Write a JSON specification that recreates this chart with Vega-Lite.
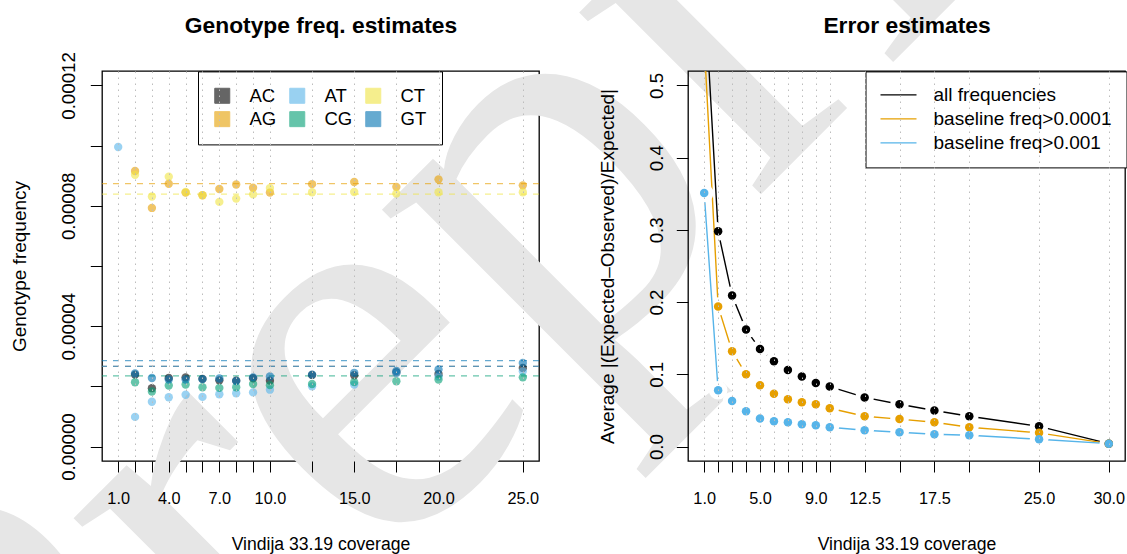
{
  "$schema": "https://vega.github.io/schema/vega-lite/v6.json",
  "background": "white",
  "autosize": {"type": "none"},
  "padding": {"left": 102, "top": 71, "right": 2, "bottom": 93},
  "params": [{"name": "width", "value": 1023}, {"name": "height", "value": 390}],
  "bounds": "flush",
  "spacing": 149,
  "resolve": {"scale": {"color": "independent"}, "legend": {"color": "independent"}},
  "config": {
    "font": "Liberation Sans",
    "view": {"stroke": "black", "strokeWidth": 1.3},
    "axis": {"domain": false, "grid": false, "tickColor": "black", "tickWidth": 1, "labelColor": "black", "titleColor": "black", "labelFont": "Liberation Sans", "titleFont": "Liberation Sans", "titleFontWeight": "normal", "labelFlush": false, "labelOverlap": false}
  },
  "datasets": {
    "geno": [
      {"g": "AC", "cov": 2, "freq": 2.39e-5}, {"g": "AC", "cov": 3, "freq": 1.94e-5}, {"g": "AC", "cov": 4, "freq": 2.28e-5}, {"g": "AC", "cov": 5, "freq": 2.30e-5}, {"g": "AC", "cov": 6, "freq": 2.25e-5}, {"g": "AC", "cov": 7, "freq": 2.20e-5}, {"g": "AC", "cov": 8, "freq": 2.19e-5}, {"g": "AC", "cov": 9, "freq": 2.27e-5}, {"g": "AC", "cov": 10, "freq": 2.19e-5}, {"g": "AC", "cov": 12.5, "freq": 2.38e-5}, {"g": "AC", "cov": 15, "freq": 2.37e-5}, {"g": "AC", "cov": 17.5, "freq": 2.46e-5}, {"g": "AC", "cov": 20, "freq": 2.41e-5}, {"g": "AC", "cov": 25, "freq": 2.61e-5},
      {"g": "AG", "cov": 2, "freq": 9.157e-5}, {"g": "AG", "cov": 3, "freq": 7.93e-5}, {"g": "AG", "cov": 4, "freq": 8.735e-5}, {"g": "AG", "cov": 5, "freq": 8.44e-5}, {"g": "AG", "cov": 6, "freq": 8.35e-5}, {"g": "AG", "cov": 7, "freq": 8.56e-5}, {"g": "AG", "cov": 8, "freq": 8.71e-5}, {"g": "AG", "cov": 9, "freq": 8.60e-5}, {"g": "AG", "cov": 10, "freq": 8.44e-5}, {"g": "AG", "cov": 12.5, "freq": 8.72e-5}, {"g": "AG", "cov": 15, "freq": 8.79e-5}, {"g": "AG", "cov": 17.5, "freq": 8.63e-5}, {"g": "AG", "cov": 20, "freq": 8.88e-5}, {"g": "AG", "cov": 25, "freq": 8.68e-5},
      {"g": "AT", "cov": 1, "freq": 9.954e-5}, {"g": "AT", "cov": 2, "freq": 9.86e-6}, {"g": "AT", "cov": 3, "freq": 1.49e-5}, {"g": "AT", "cov": 4, "freq": 1.64e-5}, {"g": "AT", "cov": 5, "freq": 1.72e-5}, {"g": "AT", "cov": 6, "freq": 1.65e-5}, {"g": "AT", "cov": 7, "freq": 1.74e-5}, {"g": "AT", "cov": 8, "freq": 1.77e-5}, {"g": "AT", "cov": 9, "freq": 1.80e-5}, {"g": "AT", "cov": 10, "freq": 1.89e-5}, {"g": "AT", "cov": 12.5, "freq": 2.00e-5}, {"g": "AT", "cov": 15, "freq": 2.06e-5}, {"g": "AT", "cov": 17.5, "freq": 2.44e-5}, {"g": "AT", "cov": 20, "freq": 2.33e-5}, {"g": "AT", "cov": 25, "freq": 2.50e-5},
      {"g": "CG", "cov": 2, "freq": 2.136e-5}, {"g": "CG", "cov": 3, "freq": 1.83e-5}, {"g": "CG", "cov": 4, "freq": 2.03e-5}, {"g": "CG", "cov": 5, "freq": 2.06e-5}, {"g": "CG", "cov": 6, "freq": 1.97e-5}, {"g": "CG", "cov": 7, "freq": 1.95e-5}, {"g": "CG", "cov": 8, "freq": 1.97e-5}, {"g": "CG", "cov": 9, "freq": 2.08e-5}, {"g": "CG", "cov": 10, "freq": 2.04e-5}, {"g": "CG", "cov": 12.5, "freq": 2.08e-5}, {"g": "CG", "cov": 15, "freq": 2.14e-5}, {"g": "CG", "cov": 17.5, "freq": 2.17e-5}, {"g": "CG", "cov": 20, "freq": 2.23e-5}, {"g": "CG", "cov": 25, "freq": 2.30e-5},
      {"g": "CT", "cov": 2, "freq": 9.03e-5}, {"g": "CT", "cov": 3, "freq": 8.31e-5}, {"g": "CT", "cov": 4, "freq": 8.97e-5}, {"g": "CT", "cov": 5, "freq": 8.46e-5}, {"g": "CT", "cov": 6, "freq": 8.35e-5}, {"g": "CT", "cov": 7, "freq": 8.13e-5}, {"g": "CT", "cov": 8, "freq": 8.24e-5}, {"g": "CT", "cov": 9, "freq": 8.38e-5}, {"g": "CT", "cov": 10, "freq": 8.59e-5}, {"g": "CT", "cov": 12.5, "freq": 8.45e-5}, {"g": "CT", "cov": 15, "freq": 8.46e-5}, {"g": "CT", "cov": 17.5, "freq": 8.41e-5}, {"g": "CT", "cov": 20, "freq": 8.45e-5}, {"g": "CT", "cov": 25, "freq": 8.45e-5},
      {"g": "GT", "cov": 2, "freq": 2.43e-5}, {"g": "GT", "cov": 3, "freq": 2.28e-5}, {"g": "GT", "cov": 4, "freq": 2.23e-5}, {"g": "GT", "cov": 5, "freq": 2.23e-5}, {"g": "GT", "cov": 6, "freq": 2.24e-5}, {"g": "GT", "cov": 7, "freq": 2.26e-5}, {"g": "GT", "cov": 8, "freq": 2.18e-5}, {"g": "GT", "cov": 9, "freq": 2.30e-5}, {"g": "GT", "cov": 10, "freq": 2.33e-5}, {"g": "GT", "cov": 12.5, "freq": 2.39e-5}, {"g": "GT", "cov": 15, "freq": 2.45e-5}, {"g": "GT", "cov": 17.5, "freq": 2.51e-5}, {"g": "GT", "cov": 20, "freq": 2.56e-5}, {"g": "GT", "cov": 25, "freq": 2.78e-5}
    ],
    "base": [
      {"g": "AC", "freq": 2.667e-5}, {"g": "AG", "freq": 8.735e-5}, {"g": "AT", "freq": 2.667e-5}, {"g": "CG", "freq": 2.348e-5}, {"g": "CT", "freq": 8.39e-5}, {"g": "GT", "freq": 2.856e-5}
    ],
    "err": [
      {"s": "all frequencies", "cov": 1, "err": 0.64}, {"s": "all frequencies", "cov": 2, "err": 0.298}, {"s": "all frequencies", "cov": 3, "err": 0.209}, {"s": "all frequencies", "cov": 4, "err": 0.162}, {"s": "all frequencies", "cov": 5, "err": 0.135}, {"s": "all frequencies", "cov": 6, "err": 0.118}, {"s": "all frequencies", "cov": 7, "err": 0.106}, {"s": "all frequencies", "cov": 8, "err": 0.097}, {"s": "all frequencies", "cov": 9, "err": 0.088}, {"s": "all frequencies", "cov": 10, "err": 0.083}, {"s": "all frequencies", "cov": 12.5, "err": 0.068}, {"s": "all frequencies", "cov": 15, "err": 0.0585}, {"s": "all frequencies", "cov": 17.5, "err": 0.05}, {"s": "all frequencies", "cov": 20, "err": 0.042}, {"s": "all frequencies", "cov": 25, "err": 0.028}, {"s": "all frequencies", "cov": 30, "err": 0.004},
      {"s": "baseline freq>0.0001", "cov": 1, "err": 0.56}, {"s": "baseline freq>0.0001", "cov": 2, "err": 0.194}, {"s": "baseline freq>0.0001", "cov": 3, "err": 0.132}, {"s": "baseline freq>0.0001", "cov": 4, "err": 0.1}, {"s": "baseline freq>0.0001", "cov": 5, "err": 0.085}, {"s": "baseline freq>0.0001", "cov": 6, "err": 0.073}, {"s": "baseline freq>0.0001", "cov": 7, "err": 0.0655}, {"s": "baseline freq>0.0001", "cov": 8, "err": 0.0613}, {"s": "baseline freq>0.0001", "cov": 9, "err": 0.0585}, {"s": "baseline freq>0.0001", "cov": 10, "err": 0.053}, {"s": "baseline freq>0.0001", "cov": 12.5, "err": 0.042}, {"s": "baseline freq>0.0001", "cov": 15, "err": 0.038}, {"s": "baseline freq>0.0001", "cov": 17.5, "err": 0.0337}, {"s": "baseline freq>0.0001", "cov": 20, "err": 0.0268}, {"s": "baseline freq>0.0001", "cov": 25, "err": 0.019}, {"s": "baseline freq>0.0001", "cov": 30, "err": 0.004},
      {"s": "baseline freq>0.001", "cov": 1, "err": 0.351}, {"s": "baseline freq>0.001", "cov": 2, "err": 0.078}, {"s": "baseline freq>0.001", "cov": 3, "err": 0.063}, {"s": "baseline freq>0.001", "cov": 4, "err": 0.049}, {"s": "baseline freq>0.001", "cov": 5, "err": 0.039}, {"s": "baseline freq>0.001", "cov": 6, "err": 0.035}, {"s": "baseline freq>0.001", "cov": 7, "err": 0.0337}, {"s": "baseline freq>0.001", "cov": 8, "err": 0.031}, {"s": "baseline freq>0.001", "cov": 9, "err": 0.0295}, {"s": "baseline freq>0.001", "cov": 10, "err": 0.0267}, {"s": "baseline freq>0.001", "cov": 12.5, "err": 0.0226}, {"s": "baseline freq>0.001", "cov": 15, "err": 0.0198}, {"s": "baseline freq>0.001", "cov": 17.5, "err": 0.017}, {"s": "baseline freq>0.001", "cov": 20, "err": 0.0156}, {"s": "baseline freq>0.001", "cov": 25, "err": 0.0101}, {"s": "baseline freq>0.001", "cov": 30, "err": 0.004}
    ],
    "wm": [{"w": "Preprint"}]
  },
  "hconcat": [
    {
      "width": 437,
      "height": 390,
      "resolve": {"axis": {"x": "independent"}},
      "layer": [
        {
          "data": {"name": "wm"},
          "mark": {"type": "text", "font": "Liberation Serif", "fontSize": 560, "angle": 315, "align": "left", "baseline": "alphabetic", "color": "#e6e6e6", "clip": false},
          "encoding": {
            "x": {"datum": -4.4, "type": "quantitative", "scale": {"domain": [0.04, 25.96], "nice": false, "zero": false},
                  "axis": {"orient": "top", "ticks": false, "labels": false, "grid": false, "title": "Genotype freq. estimates", "titleFontSize": 22.8, "titleFontWeight": "bold", "titleX": 218.5, "titleY": -39, "titleAlign": "center", "titleBaseline": "alphabetic"}},
            "y": {"datum": -0.000160, "type": "quantitative"},
            "text": {"field": "w"}
          }
        },
        {
          "data": {"name": "base"},
          "mark": {"type": "rule", "strokeDash": [6, 6], "strokeWidth": 1.3, "opacity": 0.6},
          "encoding": {
            "y": {"field": "freq", "type": "quantitative",
                  "scale": {"domain": [-0.0000048, 0.0001248], "nice": false, "zero": false},
                  "axis": {"values": [0, 0.00002, 0.00004, 0.00006, 0.00008, 0.0001, 0.00012], "labelExpr": "round(datum.value*100000) % 4 == 0 ? format(datum.value, '.5f') : ''", "labelAngle": -90, "labelAlign": "center", "labelBaseline": "alphabetic", "labelPadding": 16, "labelFontSize": 18.7, "tickSize": 11.7, "title": "Genotype frequency", "titleFontSize": 19, "titleAngle": 270, "titleX": -76.5, "titleY": 195, "titleAlign": "center", "titleBaseline": "alphabetic"}},
            "color": {"field": "g", "type": "nominal",
                      "scale": {"domain": ["AC", "AT", "CT", "AG", "CG", "GT"], "range": ["#000000", "#56B4E9", "#F0E442", "#E69F00", "#009E73", "#0072B2"]},
                      "legend": {"orient": "none", "legendX": 96, "legendY": 0.4, "title": null, "columns": 3, "direction": "horizontal", "symbolType": "square", "symbolSize": 225, "symbolStrokeColor": "black", "symbolStrokeWidth": 1, "labelFontSize": 18.5, "labelColor": "black", "labelOffset": 18, "padding": 15, "rowPadding": 3.5, "columnPadding": 10, "strokeColor": "black", "fillColor": "white",
                                 "encode": {"symbols": {"update": {"opacity": {"value": 1}, "fillOpacity": {"value": 0.6}, "stroke": {"value": "black"}, "strokeOpacity": {"value": 1}, "strokeWidth": {"value": 1}, "strokeDash": {"value": []}}}}}}
          }
        },
        {
          "data": {"name": "geno"},
          "mark": {"type": "circle", "size": 70, "opacity": 0.6},
          "encoding": {
            "x": {"field": "cov", "type": "quantitative", "scale": {"domain": [0.04, 25.96], "nice": false, "zero": false},
                  "axis": {"orient": "bottom", "zindex": 1, "values": [1, 2, 3, 4, 5, 6, 7, 8, 9, 10, 12.5, 15, 17.5, 20, 25], "labelExpr": "indexof([1,4,7,10,15,20,25], datum.value) >= 0 ? format(datum.value, '.1f') : ''", "labelFontSize": 16.3, "labelBaseline": "alphabetic", "labelPadding": 31.5, "tickSize": 11, "grid": true, "gridColor": "#bdbdbd", "gridDash": [1.5, 4.5], "gridWidth": 1, "title": "Vindija 33.19 coverage", "titleFontSize": 17.6, "titleX": 218.5, "titleY": 88, "titleAlign": "center", "titleBaseline": "alphabetic"}},
            "y": {"field": "freq", "type": "quantitative"},
            "color": {"field": "g", "type": "nominal",
                      "scale": {"domain": ["AC", "AT", "CT", "AG", "CG", "GT"], "range": ["#000000", "#56B4E9", "#F0E442", "#E69F00", "#009E73", "#0072B2"]}}
          }
        }
      ]
    },
    {
      "width": 437,
      "height": 390,
      "resolve": {"axis": {"x": "independent"}},
      "data": {"name": "err"},
      "layer": [
        {
          "transform": [{"filter": "datum.s == 'all frequencies'"}],
          "mark": {"type": "line", "strokeWidth": 1.4, "clip": true},
          "encoding": {
            "x": {"field": "cov", "type": "quantitative", "scale": {"domain": [-0.16, 31.16], "nice": false, "zero": false},
                  "axis": {"orient": "bottom", "zindex": 1, "values": [1, 2, 3, 4, 5, 6, 7, 8, 9, 10, 12.5, 15, 17.5, 20, 25, 30], "labelExpr": "indexof([1,5,9,12.5,17.5,25,30], datum.value) >= 0 ? format(datum.value, '.1f') : ''", "labelFontSize": 16.3, "labelBaseline": "alphabetic", "labelPadding": 31.5, "tickSize": 11, "grid": true, "gridColor": "#bdbdbd", "gridDash": [1.5, 4.5], "gridWidth": 1, "title": "Vindija 33.19 coverage", "titleFontSize": 17.6, "titleX": 218.5, "titleY": 88, "titleAlign": "center", "titleBaseline": "alphabetic"}},
            "y": {"field": "err", "type": "quantitative", "scale": {"domain": [-0.02, 0.52], "nice": false, "zero": false},
                  "axis": {"values": [0, 0.1, 0.2, 0.3, 0.4, 0.5], "format": ".1f", "labelAngle": -90, "labelAlign": "center", "labelBaseline": "alphabetic", "labelPadding": 13.7, "labelFontSize": 18.7, "tickSize": 11.7, "title": "Average |(Expected–Observed)/Expected|", "titleFontSize": 19, "titleAngle": 270, "titleX": -74.6, "titleY": 195, "titleAlign": "center", "titleBaseline": "alphabetic"}},
            "color": {"field": "s", "type": "nominal",
                      "scale": {"domain": ["all frequencies", "baseline freq>0.0001", "baseline freq>0.001"], "range": ["#000000", "#E69F00", "#56B4E9"]},
                      "legend": {"orient": "none", "legendX": 177.5, "legendY": 0.4, "title": null, "symbolType": "stroke", "symbolSize": 1296, "symbolStrokeWidth": 1.4, "labelFontSize": 19, "labelColor": "black", "labelLimit": 400, "labelOffset": 16, "padding": 14, "rowPadding": 4, "clipHeight": 19, "strokeColor": "black", "fillColor": "white"}}
          }
        },
        {
          "transform": [{"filter": "datum.s == 'all frequencies'"}],
          "mark": {"type": "circle", "size": 346, "color": "white", "opacity": 1, "clip": true},
          "encoding": {
            "x": {"field": "cov", "type": "quantitative", "axis": null},
            "y": {"field": "err", "type": "quantitative"}
          }
        },
        {
          "transform": [{"filter": "datum.s == 'baseline freq>0.0001'"}],
          "mark": {"type": "line", "strokeWidth": 1.4, "clip": true},
          "encoding": {
            "x": {"field": "cov", "type": "quantitative", "axis": null},
            "y": {"field": "err", "type": "quantitative"},
            "color": {"field": "s", "type": "nominal"}
          }
        },
        {
          "transform": [{"filter": "datum.s == 'baseline freq>0.0001'"}],
          "mark": {"type": "circle", "size": 346, "color": "white", "opacity": 1, "clip": true},
          "encoding": {
            "x": {"field": "cov", "type": "quantitative", "axis": null},
            "y": {"field": "err", "type": "quantitative"}
          }
        },
        {
          "transform": [{"filter": "datum.s == 'baseline freq>0.001'"}],
          "mark": {"type": "line", "strokeWidth": 1.4, "clip": true},
          "encoding": {
            "x": {"field": "cov", "type": "quantitative", "axis": null},
            "y": {"field": "err", "type": "quantitative"},
            "color": {"field": "s", "type": "nominal"}
          }
        },
        {
          "transform": [{"filter": "datum.s == 'baseline freq>0.001'"}],
          "mark": {"type": "circle", "size": 346, "color": "white", "opacity": 1, "clip": true},
          "encoding": {
            "x": {"field": "cov", "type": "quantitative", "axis": null},
            "y": {"field": "err", "type": "quantitative"}
          }
        },
        {
          "mark": {"type": "circle", "size": 72, "opacity": 1, "clip": true},
          "encoding": {
            "x": {"field": "cov", "type": "quantitative",
                  "axis": {"orient": "top", "ticks": false, "labels": false, "grid": false, "title": "Error estimates", "titleFontSize": 22.8, "titleFontWeight": "bold", "titleX": 218.5, "titleY": -39, "titleAlign": "center", "titleBaseline": "alphabetic"}},
            "y": {"field": "err", "type": "quantitative"},
            "color": {"field": "s", "type": "nominal", "legend": null}
          }
        }
      ]
    }
  ]
}
